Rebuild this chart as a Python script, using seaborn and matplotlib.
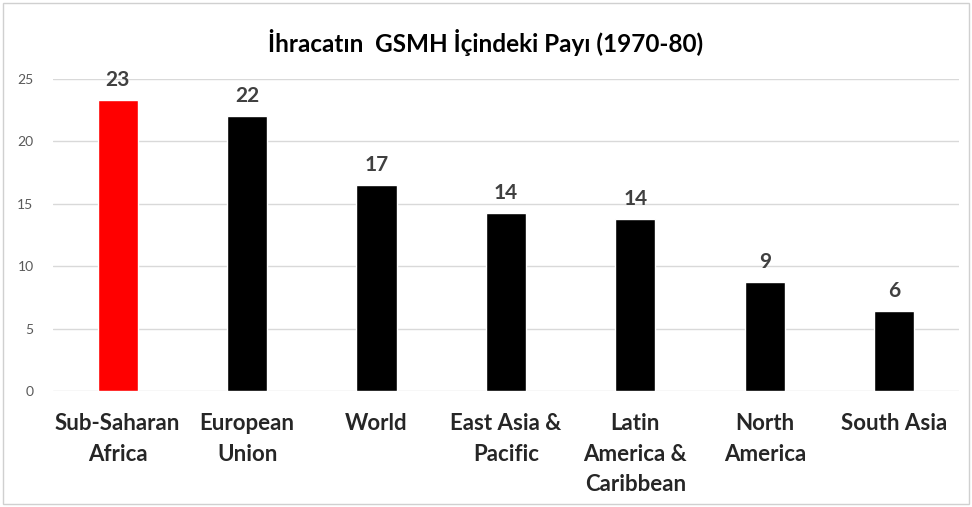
import seaborn as sns
import matplotlib.pyplot as plt
from matplotlib.patches import Rectangle

regions = ['Sub-Saharan\nAfrica', 'European\nUnion', 'World', 'East Asia &\nPacific',
           'Latin\nAmerica &\nCaribbean', 'North\nAmerica', 'South Asia']
shares = [23.3, 22.0, 16.5, 14.25, 13.75, 8.75, 6.4]
labels = ['23', '22', '17', '14', '14', '9', '6']
bar_colors = ['#ff0000', '#000000', '#000000', '#000000', '#000000', '#000000', '#000000']

sns.set_style("white")
plt.rcParams['font.family'] = ['Lato', 'DejaVu Sans']

fig = plt.figure(figsize=(9.72, 5.07), dpi=100)
ax = fig.add_axes([0.0545, 0.2288, 0.932, 0.6154])

sns.barplot(x=regions, y=shares, hue=regions, palette=bar_colors, legend=False,
            width=0.31, ax=ax, saturation=1)

for i, (v, t) in enumerate(zip(shares, labels)):
    ax.text(i, v + 0.8, t, ha='center', va='bottom', fontsize=15, fontweight='bold', color='#404040')

ax.set_ylim(0, 25)
ax.set_yticks([0, 5, 10, 15, 20, 25])
ax.grid(axis='y', color='#d9d9d9', linewidth=1)
ax.set_axisbelow(True)
for s in ax.spines.values():
    s.set_visible(False)
ax.tick_params(axis='y', labelsize=10, labelcolor='#595959', length=0, pad=14)
ax.tick_params(axis='x', labelsize=16, length=0, pad=16)
for lbl in ax.get_xticklabels():
    lbl.set_fontweight('bold')
    lbl.set_linespacing(1.55)
    lbl.set_verticalalignment('top')

fig.text(0.5, 0.917, 'İhracatın  GSMH İçindeki Payı (1970-80)', ha='center', va='center',
         fontsize=17.5, fontweight='bold', color='#000000')

fig.patches.append(Rectangle((0.003, 0.005), 0.994, 0.99, transform=fig.transFigure,
                             fill=False, edgecolor='#d0d0d0', linewidth=1))

plt.savefig('out.png', dpi=100)
